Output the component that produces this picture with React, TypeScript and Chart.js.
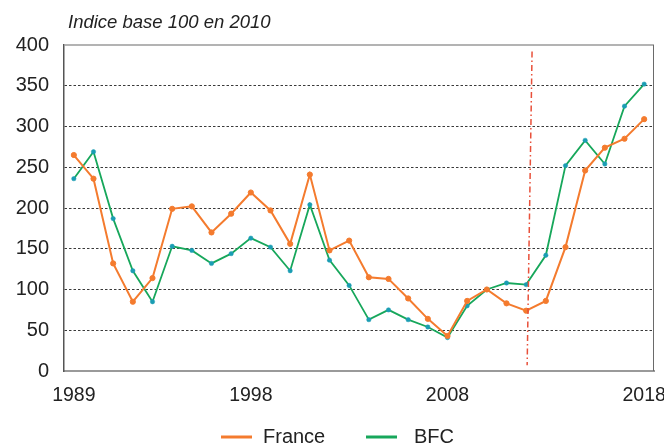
import React, { useEffect, useRef } from 'react';
import { Chart, registerables } from 'chart.js';

Chart.register(...registerables);

const years = [
  '1989', '1990', '1991', '1992', '1993', '1994', '1995', '1996', '1997', '1998',
  '1999', '2000', '2001', '2002', '2003', '2004', '2005', '2006', '2007', '2008',
  '2009', '2010', '2011', '2012', '2013', '2014', '2015', '2016', '2017', '2018',
];
const shownYears = ['1989', '1998', '2008', '2018'];
const france = [
  265, 236, 132, 85, 114, 199, 202, 170, 193, 219,
  197, 156, 241, 148, 160, 115, 113, 89, 64, 43,
  86, 100, 83, 74, 86, 152, 246, 274, 285, 309,
];
const bfc = [
  236, 269, 187, 123, 85, 153, 148, 132, 144, 163,
  152, 123, 204, 136, 105, 63, 75, 63, 54, 41,
  80, 100, 108, 106, 142, 252, 283, 254, 325, 352,
];
const seriesNames = ['France', 'BFC'];
const yMin = 0;
const yMax = 400;
const yStep = 50;
const breakYear = '2012';
const titleText = 'Indice base 100 en 2010';

const ORANGE = '#f47b2e';
const GREEN = '#17a75b';
const TEAL = '#1a9db3';
const FONT = "'Liberation Sans', Arial, sans-serif";

export default function App() {
  const ref = useRef<HTMLCanvasElement | null>(null);

  useEffect(() => {
    document.body.style.margin = '0';
    const canvas = ref.current;
    if (!canvas) return;

    const overlay = {
      id: 'overlay',
      afterDraw(chart: any) {
        const ctx = chart.ctx;
        const area = chart.chartArea;
        const xs = chart.scales.x;
        const ys = chart.scales.y;
        ctx.save();
        // top frame line
        ctx.strokeStyle = '#9a9a9a';
        ctx.lineWidth = 1.5;
        ctx.beginPath();
        ctx.moveTo(area.left, ys.getPixelForValue(yMax));
        ctx.lineTo(area.right, ys.getPixelForValue(yMax));
        ctx.stroke();
        // right frame line
        ctx.strokeStyle = '#6a6a6a';
        ctx.lineWidth = 1;
        ctx.beginPath();
        ctx.moveTo(area.right - 0.5, area.top);
        ctx.lineTo(area.right - 0.5, area.bottom);
        ctx.stroke();
        // break marker
        const bi = years.indexOf(breakYear);
        ctx.strokeStyle = '#e8503a';
        ctx.lineWidth = 1.5;
        ctx.setLineDash([6, 3, 1.5, 3]);
        ctx.beginPath();
        ctx.moveTo(xs.getPixelForValue(bi + 0.3), ys.getPixelForValue(392));
        ctx.lineTo(xs.getPixelForValue(bi + 0.05), ys.getPixelForValue(7));
        ctx.stroke();
        ctx.setLineDash([]);
        // title
        ctx.fillStyle = '#222';
        ctx.font = `italic 18.5px ${FONT}`;
        ctx.textAlign = 'left';
        ctx.textBaseline = 'alphabetic';
        ctx.fillText(titleText, 68, 28);
        // legend
        const colors = [ORANGE, GREEN];
        const lineX = [221, 366];
        const textX = [263, 414];
        const ly = 437;
        ctx.font = `20px ${FONT}`;
        ctx.textBaseline = 'middle';
        seriesNames.forEach((name, i) => {
          ctx.strokeStyle = colors[i];
          ctx.lineWidth = 3;
          ctx.beginPath();
          ctx.moveTo(lineX[i], ly);
          ctx.lineTo(lineX[i] + 31, ly);
          ctx.stroke();
          ctx.fillStyle = '#222';
          ctx.fillText(name, textX[i], ly);
        });
        ctx.restore();
      },
    };

    const chart = new Chart(canvas, {
      type: 'line',
      data: {
        labels: years,
        datasets: [
          {
            label: seriesNames[0],
            data: france,
            borderColor: ORANGE,
            backgroundColor: ORANGE,
            pointBackgroundColor: ORANGE,
            pointBorderColor: ORANGE,
            borderWidth: 2,
            pointRadius: 2.6,
            pointBorderWidth: 1,
            tension: 0,
          },
          {
            label: seriesNames[1],
            data: bfc,
            borderColor: GREEN,
            backgroundColor: GREEN,
            pointBackgroundColor: TEAL,
            pointBorderColor: TEAL,
            borderWidth: 1.8,
            pointRadius: 2.2,
            pointBorderWidth: 0.5,
            tension: 0,
          },
        ],
      },
      options: {
        responsive: false,
        animation: false,
        devicePixelRatio: 1,
        layout: { padding: { top: 45, right: 10, bottom: 35, left: 0 } },
        plugins: {
          legend: { display: false },
          tooltip: { enabled: false },
          title: { display: false },
        },
        scales: {
          x: {
            type: 'category',
            offset: true,
            grid: { display: false, drawTicks: false },
            border: { display: true, color: '#9a9a9a', width: 2 },
            ticks: {
              autoSkip: false,
              maxRotation: 0,
              minRotation: 0,
              padding: 13,
              color: '#222',
              font: { family: FONT, size: 19.5 },
              callback: function (this: any, value: any, index: number) {
                const lab = years[index];
                return shownYears.includes(lab) ? lab : '';
              },
            },
            afterFit(scale: any) {
              scale.height = 40;
              scale.paddingLeft = 0;
              scale.paddingRight = 0;
            },
          },
          y: {
            min: yMin,
            max: yMax,
            grid: {
              drawTicks: false,
              color: (c: any) =>
                c.tick && (c.tick.value === yMin || c.tick.value === yMax)
                  ? 'rgba(0,0,0,0)'
                  : '#3a3a3a',
              lineWidth: 1,
            },
            border: { display: true, color: '#555', width: 1.5, dash: [2.5, 2] },
            ticks: {
              stepSize: yStep,
              padding: 15,
              color: '#222',
              font: { family: FONT, size: 20 },
            },
            afterFit(scale: any) {
              scale.width = 64;
            },
          },
        },
      },
      plugins: [overlay],
    } as any);

    return () => chart.destroy();
  }, []);

  return (
    <div style={{ width: 664, height: 446 }}>
      <canvas ref={ref} width={664} height={446} />
    </div>
  );
}
